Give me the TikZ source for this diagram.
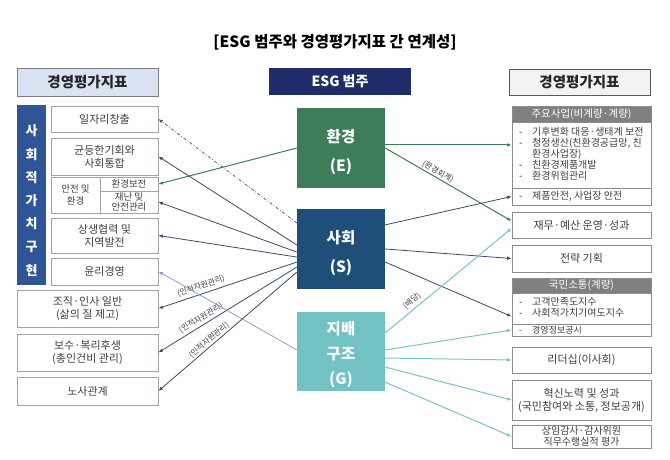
\documentclass[tikz,border=0pt]{standalone}
\usepackage{fontspec}
\setmainfont{Noto Sans CJK KR}
\usetikzlibrary{arrows.meta,calc}
\definecolor{navy}{HTML}{1F2D6B}
\definecolor{lbarc}{HTML}{2F5597}
\definecolor{lhfill}{HTML}{DAE3F3}
\definecolor{hdborder}{HTML}{7F7F7F}
\definecolor{cE}{HTML}{3E7D5A}
\definecolor{cS}{HTML}{1F4E79}
\definecolor{cG}{HTML}{72C1C3}
\definecolor{sline}{HTML}{3B4A66}
\definecolor{gline}{HTML}{78C3C6}
\definecolor{eline}{HTML}{3E7D5A}
\definecolor{slate}{HTML}{8796C2}
\definecolor{rhfill}{HTML}{F2F2F2}
\definecolor{rhborder}{HTML}{595959}
\definecolor{grayhdr}{HTML}{808080}
\definecolor{txt}{HTML}{404040}
\definecolor{boxgray}{HTML}{A0A4AE}
\definecolor{rgray}{HTML}{8C8C8C}
\definecolor{dgray}{HTML}{555555}
\newcommand\myitem[1]{\makebox[13pt][l]{-}#1}
\begin{document}
\begin{tikzpicture}[x=1pt,y=-1pt,
 bx/.style={draw=boxgray,line width=0.8pt,fill=white,inner sep=0pt,align=center,text=txt,font=\fontsize{11}{13}\selectfont},
 rbx/.style={bx,draw=rgray},
 ghdr/.style={fill=grayhdr,draw=rgray,line width=0.8pt,inner sep=0pt,text=white,font=\fontsize{10.5}{11}\selectfont},
 arr/.style={-{Latex[length=4.5pt,width=3.6pt]}},
 sl/.style={arr,draw=sline,line width=0.8pt},
 gl/.style={arr,draw=gline,line width=1pt},
 el/.style={arr,draw=eline,line width=1pt},
 lbl/.style={font=\fontsize{8}{9}\selectfont,text=txt,inner sep=0pt},
 big/.style={text=white,inner sep=0pt,align=center},
 itm/.style={inner sep=0pt,text=txt,align=left,font=\fontsize{10}{11}\selectfont}
]
\useasboundingbox (0,0) rectangle (670,460);
% title
\node[font=\fontsize{15.5}{17}\bfseries\selectfont] (title) at (335,42) {[ESG 범주와 경영평가지표 간 연계성]};
% left column
\node[draw=hdborder,fill=lhfill,line width=0.8pt,minimum width=141pt,minimum height=28pt,font=\fontsize{14.5}{16}\bfseries\selectfont,text=black!85] (lhead) at (87.5,82) {경영평가지표};
\node[fill=lbarc,minimum width=29pt,minimum height=180pt,inner sep=0pt] (lbar) at (31.5,195) {};
\node[text=white,font=\fontsize{13}{23.2}\bfseries\selectfont,align=center,inner sep=0pt] (lbartxt) at (31.5,200.5) {사\\회\\적\\가\\치\\구\\현};
\node[bx,minimum width=107pt,minimum height=26pt] (b1) at (104.5,119) {일자리창출};
\node[bx,minimum width=107pt,minimum height=37pt] (b2) at (104.5,156.5) {균등한기회와\\사회통합};
\node[bx,minimum width=49pt,minimum height=36pt,font=\fontsize{9.5}{12}\selectfont] (s1) at (75.5,195) {안전 및\\환경};
\node[bx,minimum width=58pt,minimum height=14pt,font=\fontsize{9.5}{10}\selectfont] (s2) at (129,184) {환경보전};
\node[bx,minimum width=58pt,minimum height=22pt,font=\fontsize{9.5}{10.5}\selectfont] (s3) at (129,202) {재난 및\\안전관리};
\node[bx,minimum width=107pt,minimum height=35pt] (b4) at (104.5,235.5) {상생협력 및\\지역발전};
\node[bx,minimum width=107pt,minimum height=27pt] (b5) at (104.5,271.5) {윤리경영};
\node[bx,minimum width=141pt,minimum height=37pt] (b6) at (87.5,308.5) {조직·인사 일반\\(삶의 질 제고)};
\node[bx,minimum width=141pt,minimum height=37pt] (b7) at (87.5,352.5) {보수·복리후생\\(총인건비 관리)};
\node[bx,minimum width=141pt,minimum height=28pt] (b8) at (87.5,391) {노사관계};
% middle column
\node[fill=navy,minimum width=142pt,minimum height=27pt,text=white,font=\fontsize{14}{15}\bfseries\selectfont] (mhead) at (340,81.5) {ESG 범주};
\node[fill=cE,minimum width=88pt,minimum height=80pt,inner sep=0pt] (E) at (341,148) {};
\node[big,font=\fontsize{15.5}{29}\bfseries\selectfont] (Et) at (341,152.5) {환경\\(E)};
\node[fill=cS,minimum width=88pt,minimum height=80pt,inner sep=0pt] (S) at (341,249) {};
\node[big,font=\fontsize{15.5}{29}\bfseries\selectfont] (St) at (341,253.5) {사회\\(S)};
\node[fill=cG,minimum width=88pt,minimum height=79pt,inner sep=0pt] (G) at (341,351.5) {};
\node[big,font=\fontsize{15.5}{25}\bfseries\selectfont] (Gt) at (341,355) {지배\\구조\\(G)};
% right column
\node[draw=rhborder,fill=rhfill,line width=0.8pt,minimum width=141pt,minimum height=26pt,font=\fontsize{14.5}{16}\bfseries\selectfont,text=black!85] (rhead) at (579.5,82) {경영평가지표};
\node[ghdr,minimum width=139pt,minimum height=16pt] (r1h) at (581.5,114) {주요사업(비계량·계량)};
\node[rbx,minimum width=139pt,minimum height=66pt] (r1b) at (581.5,155) {};
\node[itm,anchor=north west] (r1t) at (519,126.5) {\myitem{기후변화 대응·생태계 보전}\\\myitem{청정생산(친환경공급망, 친}\\\hspace*{13pt}환경사업장)\\\myitem{친환경제품개발}\\\myitem{환경위험관리}};
\node[rbx,minimum width=139pt,minimum height=17pt] (r1s) at (581.5,196.5) {};
\node[itm,anchor=west] (r1st) at (519,196.5) {\myitem{제품안전, 사업장 안전}};
\node[rbx,minimum width=139pt,minimum height=26pt] (r2) at (581.5,225) {재무·예산 운영·성과};
\node[rbx,minimum width=139pt,minimum height=27pt] (r3) at (581.5,258.5) {전략 기획};
\node[ghdr,minimum width=139pt,minimum height=15pt] (r4h) at (581.5,285.5) {국민소통(계량)};
\node[rbx,minimum width=139pt,minimum height=31pt] (r4b) at (581.5,308.5) {};
\node[itm,anchor=north west] (r4t) at (519,297.5) {\myitem{고객만족도지수}\\\myitem{사회적가치기여도지수}};
\node[rbx,minimum width=139pt,minimum height=12pt] (r4s) at (581.5,330) {};
\node[itm,anchor=west,font=\fontsize{9}{10}\selectfont] (r4st) at (519,330) {\myitem{경영정보공시}};
\node[rbx,minimum width=139pt,minimum height=26pt] (r5) at (581.5,360) {리더십(이사회)};
\node[rbx,minimum width=139pt,minimum height=40pt] (r6) at (581.5,400) {혁신노력 및 성과\\(국민참여와 소통, 정보공개)};
\node[rbx,minimum width=139pt,minimum height=23pt,font=\fontsize{10}{11}\selectfont] (r7) at (581.5,436.5) {상임감사·감사위원\\직무수행실적 평가};
% target coordinates
\coordinate (r1in) at ($(r1b.north west)!0.35!(r1b.south west)$);
\coordinate (r2inE) at ($(r2.north west)!0.35!(r2.south west)$);
\coordinate (r2inG) at ($(r2.north west)!0.62!(r2.south west)$);
\coordinate (r4in) at ($(r4b.north west)!0.75!(r4b.south west)$);
% environment connectors
\draw[el] (E.west) -- (s2.east);
\draw[el] (E.east |- r1in) -- (r1in);
\draw[el] (E.east) -- (r2inE);
\node[lbl,rotate=-30] (lEac) at (438,172) {(환경회계)};
% social connectors (left)
\draw[arr,draw=dgray,line width=0.7pt,dash dot] ($(S.north west)!0.175!(S.south west)$) -- (b1.east);
\draw[sl] ($(S.north west)!0.45!(S.south west)$) -- (b2.east);
\draw[sl] ($(S.north west)!0.5375!(S.south west)$) -- (s3.east);
\draw[sl] ($(S.north west)!0.6!(S.south west)$) -- (b4.east);
\draw[sl] ($(S.north west)!0.6625!(S.south west)$) -- (b6.east);
\draw[sl] ($(S.north west)!0.725!(S.south west)$) -- (b7.east);
\draw[sl] ($(S.north west)!0.7875!(S.south west)$) -- (b8.east);
\node[lbl,rotate=18.5] (lHR1) at (201,286) {(인적자원관리)};
\node[lbl,rotate=31.6] (lHR2) at (201,318) {(인적자원관리)};
\node[lbl,rotate=40.6] (lHR3) at (209,340) {(인적자원관리)};
% governance to ethics
\draw[arr,draw=slate,line width=0.7pt] ($(G.north west)!0.48!(G.south west)$) -- (b5.east);
% social connectors (right)
\draw[sl] ($(S.north east)!0.2!(S.south east)$) -- (r1s.west);
\draw[sl] ($(S.north east)!0.5!(S.south east)$) -- (r3.west);
\draw[sl] ($(S.north east)!0.6625!(S.south east)$) -- (r4in);
% governance connectors (right)
\draw[gl] ($(G.north east)!0.266!(G.south east)$) -- (r2inG);
\draw[gl] ($(G.north east)!0.481!(G.south east)$) -- (r4s.west);
\draw[gl] ($(G.north east)!0.582!(G.south east)$) -- (r5.west);
\draw[gl] ($(G.north east)!0.696!(G.south east)$) -- (r6.west);
\draw[gl] ($(G.north east)!0.886!(G.south east)$) -- (r7.west);
\node[lbl,rotate=40] (lDiv) at (412,301) {(배당)};
\end{tikzpicture}
\end{document}
